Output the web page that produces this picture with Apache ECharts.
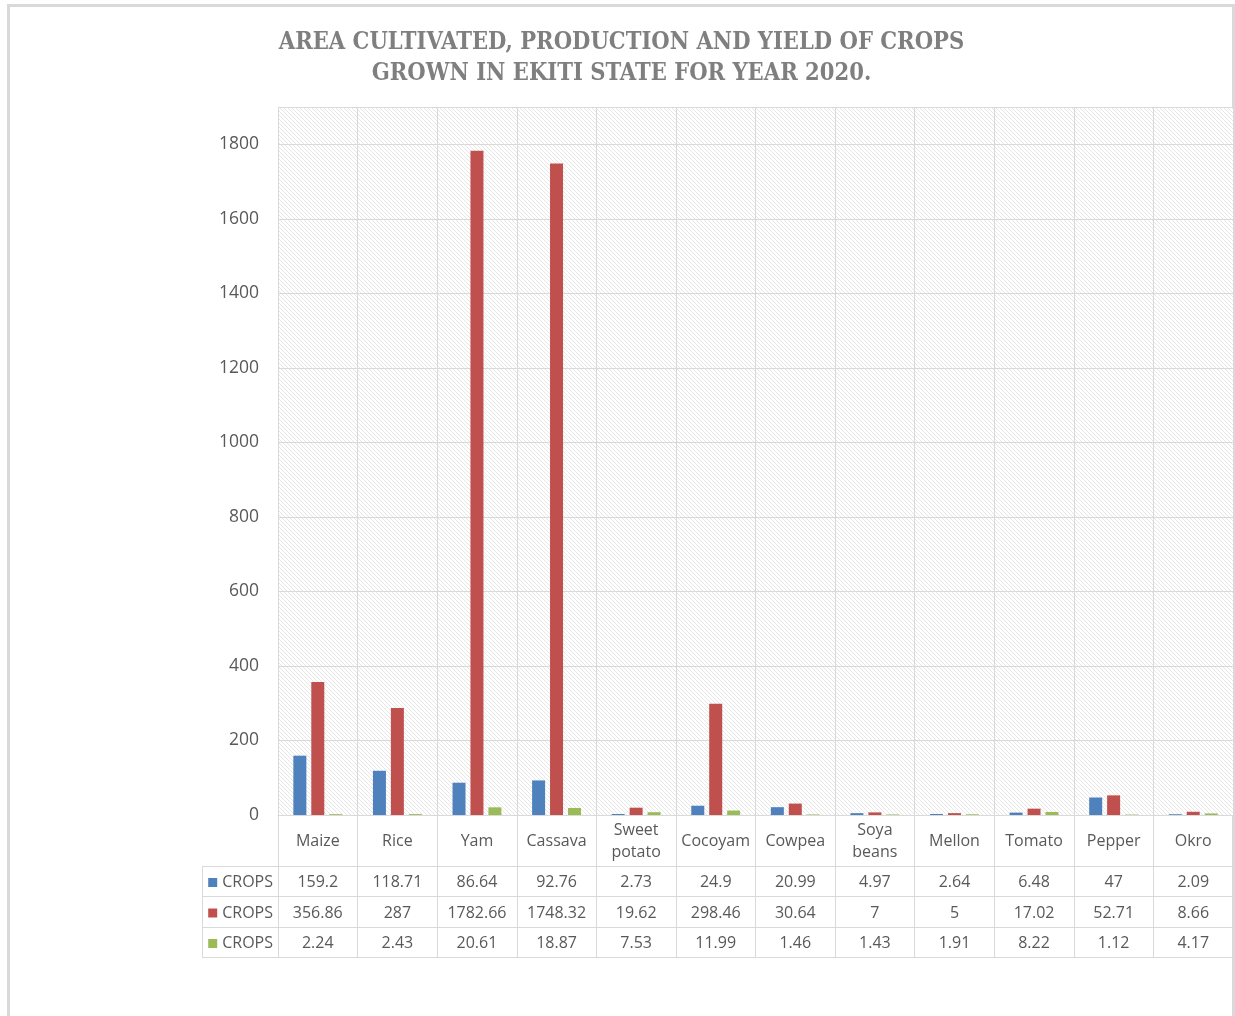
<!DOCTYPE html>
<html>
<head>
<meta charset="utf-8">
<script src="https://cdn.jsdelivr.net/npm/echarts@6/dist/echarts.min.js"></script>
<style>
html,body{margin:0;padding:0;background:#fff;}
#chart{width:1235px;height:1016px;}
</style>
</head>
<body>
<div id="chart"></div>
<script>
const titleText = 'AREA CULTIVATED, PRODUCTION AND YIELD OF CROPS\nGROWN IN EKITI STATE FOR YEAR 2020.';
const crops = ['Maize','Rice','Yam','Cassava','Sweet\npotato','Cocoyam','Cowpea','Soya\nbeans','Mellon','Tomato','Pepper','Okro'];
const seriesNames = ['CROPS','CROPS','CROPS'];
const areaCultivated = [159.2,118.71,86.64,92.76,2.73,24.9,20.99,4.97,2.64,6.48,47,2.09];
const production = [356.86,287,1782.66,1748.32,19.62,298.46,30.64,7,5,17.02,52.71,8.66];
const yieldVals = [2.24,2.43,20.61,18.87,7.53,11.99,1.46,1.43,1.91,8.22,1.12,4.17];
const yTicks = {min:0, max:1900, interval:200};

const colors = ['#4F81BD','#C0504D','#9BBB59'];
const rows = [areaCultivated, production, yieldVals];
const textColor = '#595959';
const lineColor = '#d9d9d9';
const fontFam = '"Open Sans", sans-serif';

// hatch pattern
const pc = document.createElement('canvas');
pc.width = 4; pc.height = 4;
const pctx = pc.getContext('2d');
pctx.fillStyle = '#ffffff';
pctx.fillRect(0,0,4,4);
pctx.fillStyle = '#e6e6e6';
for (let i=0;i<4;i++){ pctx.fillRect(i,i,1,1); }

const chart = echarts.init(document.getElementById('chart'), null, {renderer:'canvas'});

const rowOffsets = [51, 81.5, 112];
const xAxes = [{
  type:'category', data:crops, gridIndex:0, position:'bottom',
  axisLine:{show:true, lineStyle:{color:lineColor}},
  axisTick:{show:true, length:51, interval:0, lineStyle:{color:lineColor}},
  axisLabel:{interval:0, margin:26, verticalAlign:'middle', lineHeight:22, color:textColor, fontSize:16, fontFamily:fontFam},
  splitLine:{show:true, interval:0, lineStyle:{color:lineColor}}
}];
rows.forEach((r, k) => {
  xAxes.push({
    type:'category', data:crops, gridIndex:0, position:'bottom', offset:rowOffsets[k],
    axisLine:{show:true, onZero:false, lineStyle:{color:lineColor}},
    axisTick:{show:true, length:30.5, interval:0, lineStyle:{color:lineColor}},
    axisLabel:{interval:0, margin:16.5, verticalAlign:'middle', color:textColor, fontSize:16, fontFamily:fontFam,
      formatter:(v, i) => String(r[i])},
    splitLine:{show:false},
    name:'{sq|}{t|' + seriesNames[k] + '}', nameLocation:'start', nameGap:5,
    nameTextStyle:{verticalAlign:'top', padding:[8.5,0,0,0], color:textColor, fontSize:16, fontFamily:fontFam,
      rich:{sq:{width:9,height:9,backgroundColor:colors[k]}, t:{color:textColor, fontSize:16, fontFamily:fontFam, padding:[0,0,0,5]}}}
  });
});
xAxes.push({
  type:'category', data:crops, gridIndex:0, position:'bottom', offset:142,
  axisLine:{show:true, onZero:false, lineStyle:{color:lineColor}},
  axisTick:{show:false}, axisLabel:{show:false}, splitLine:{show:false}
});

const option = {
  backgroundColor:'#ffffff',
  animation:false,
  grid:{left:278, right:2, top:107, bottom:201, show:true, borderWidth:0,
    backgroundColor:{image:pc, repeat:'repeat'}},
  xAxis:xAxes,
  yAxis:{type:'value', min:yTicks.min, max:yTicks.max, interval:yTicks.interval,
    axisLine:{show:false}, axisTick:{show:false},
    axisLabel:{showMaxLabel:false, margin:19, color:textColor, fontSize:17.5, fontFamily:fontFam,
      formatter:(v) => String(v)},
    splitLine:{show:true, lineStyle:{color:lineColor}}},
  series: rows.map((r,k)=>({
    type:'bar', name:seriesNames[k], data:r, xAxisIndex:0, yAxisIndex:0,
    barWidth:13, barGap:'38%', itemStyle:{color:colors[k]}
  })),
  graphic:[
    {type:'text', x:621.5, y:27.5, silent:true,
      style:{text:titleText, align:'center', verticalAlign:'top', lineHeight:31,
        fontFamily:'"DejaVu Serif Condensed","DejaVu Serif",serif', fontWeight:'bold', fontSize:23.5, fill:'#7f7f7f'}},
    {type:'rect', shape:{x:8.5,y:5.5,width:1225,height:1100}, style:{fill:null, stroke:lineColor, lineWidth:3}, silent:true, z:-1},
    {type:'line', shape:{x1:202.5,y1:866,x2:202.5,y2:957}, style:{stroke:lineColor, lineWidth:1}},
    {type:'line', shape:{x1:202,y1:866.5,x2:278,y2:866.5}, style:{stroke:lineColor, lineWidth:1}},
    {type:'line', shape:{x1:202,y1:896.5,x2:278,y2:896.5}, style:{stroke:lineColor, lineWidth:1}},
    {type:'line', shape:{x1:202,y1:927.5,x2:278,y2:927.5}, style:{stroke:lineColor, lineWidth:1}},
    {type:'line', shape:{x1:202,y1:957.5,x2:278,y2:957.5}, style:{stroke:lineColor, lineWidth:1}}
  ]
};
chart.setOption(option);
</script>
</body>
</html>
